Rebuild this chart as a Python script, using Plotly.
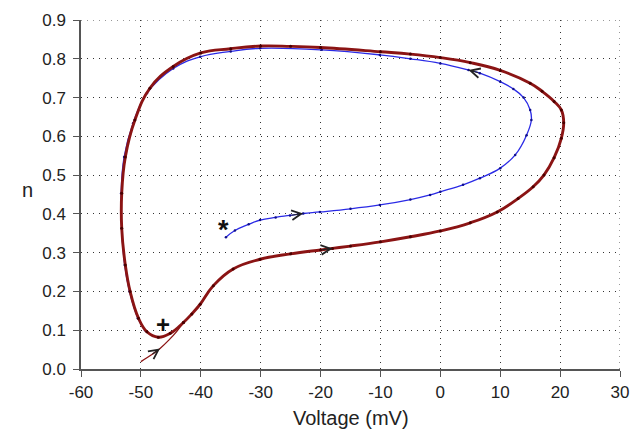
import plotly.graph_objects as go

# Transient start of the red trajectory (thin part)
red_start_v = [-50.0, -48.3, -46.8, -45.3, -44.0, -42.9]
red_start_n = [0.019, 0.036, 0.053, 0.075, 0.097, 0.120]

# Red limit cycle
red_v = [-42.9, -41.5, -40.1, -37.9, -34.6, -30.1, -25.0, -20.0, -18.0, -15.0, -10.0, -5.0, 0.0, 5.0,
         9.5, 13.0, 15.5, 17.3, 19.0, 20.2, 20.6, 20.2, 19.0, 17.0, 15.0, 10.0, 5.0, 0.0, -5.0, -10.0,
         -20.0, -25.0, -30.0, -35.0, -40.0, -44.6, -48.5, -51.0, -52.6, -53.2, -53.2, -52.6,
         -51.8, -50.4, -49.0, -47.1, -45.1, -42.9]
red_n = [0.120, 0.142, 0.167, 0.215, 0.258, 0.283, 0.297, 0.307, 0.311, 0.317, 0.328, 0.341, 0.356, 0.377,
         0.405, 0.440, 0.470, 0.500, 0.545, 0.595, 0.635, 0.668, 0.690, 0.716, 0.737, 0.770, 0.790, 0.803,
         0.812, 0.818, 0.829, 0.832, 0.833, 0.826, 0.815, 0.780, 0.724, 0.642, 0.547, 0.453,
         0.363, 0.268, 0.200, 0.131, 0.096, 0.082, 0.092, 0.120]

# Blue trajectory
blue_v = [-35.8, -34.3, -32.0, -30.1, -27.5, -25.1, -22.9, -20.1, -15.0, -10.1, -5.0, -1.7, 0.0,
          3.8, 6.6, 10.0, 12.5, 14.4, 15.2, 15.0, 13.9, 12.2, 10.0, 6.6, 4.7, 0.0, -5.0, -10.1, -19.8,
          -30.1, -35.0, -40.1, -44.6, -49.0, -51.3, -52.8, -53.3, -53.2, -52.7, -51.9, -50.5, -49.3]
blue_n = [0.340, 0.357, 0.373, 0.384, 0.391, 0.396, 0.401, 0.405, 0.413, 0.423, 0.437, 0.449, 0.457,
          0.475, 0.492, 0.518, 0.552, 0.603, 0.642, 0.668, 0.700, 0.722, 0.741, 0.763, 0.771, 0.788,
          0.800, 0.810, 0.823, 0.827, 0.819, 0.805, 0.775, 0.711, 0.634, 0.547, 0.453, 0.363, 0.268,
          0.200, 0.131, 0.100]

# Tick values and labels
x_ticks = [-60, -50, -40, -30, -20, -10, 0, 10, 20, 30]
x_tick_text = ["-60", "-50", "-40", "-30", "-20", "-10", "0", "10", "20", "30"]
y_ticks = [0.0, 0.1, 0.2, 0.3, 0.4, 0.5, 0.6, 0.7, 0.8, 0.9]
y_tick_text = ["0.0", "0.1", "0.2", "0.3", "0.4", "0.5", "0.6", "0.7", "0.8", "0.9"]

# Markers
star_pt = (-36.2, 0.371)
plus_pt = (-46.3, 0.115)

RED = "#8b1414"
BLUE = "#2a2ae6"
FONT = "Liberation Sans"

fig = go.Figure()
fig.add_trace(go.Scatter(x=blue_v, y=blue_n, mode="lines+markers",
                         line=dict(color=BLUE, width=1.3, shape="spline", smoothing=1.2),
                         marker=dict(size=2.5, color="#10108a"), hoverinfo="skip"))
fig.add_trace(go.Scatter(x=red_start_v, y=red_start_n, mode="lines",
                         line=dict(color=RED, width=1.3, shape="spline", smoothing=1.0),
                         hoverinfo="skip"))
fig.add_trace(go.Scatter(x=red_v, y=red_n, mode="lines+markers",
                         line=dict(color=RED, width=2.9, shape="spline", smoothing=1.2),
                         marker=dict(size=3, color="#4a0000"), hoverinfo="skip"))

annotations = []
# direction arrows: tip at point i, tail at point i-1 of each series
arrow_specs = [(red_start_v, red_start_n, 2), (blue_v, blue_n, 6), (red_v, red_n, 8), (blue_v, blue_n, 24)]
for xs, ys, i in arrow_specs:
    annotations.append(dict(x=xs[i], y=ys[i], ax=xs[i - 1], ay=ys[i - 1], xref="x", yref="y",
                            axref="x", ayref="y", showarrow=True, arrowhead=5, arrowsize=1.7,
                            arrowwidth=1.1, arrowcolor="#222222", standoff=0, text=""))

annotations.append(dict(x=star_pt[0], y=star_pt[1], text="<b>*</b>", showarrow=False, yshift=-5,
                        font=dict(size=27, color="#111111", family=FONT)))
annotations.append(dict(x=plus_pt[0], y=plus_pt[1], text="<b>+</b>", showarrow=False,
                        font=dict(size=24, color="#111111", family=FONT)))
annotations.append(dict(x=0, y=0.513, xref="paper", yref="paper", xshift=-61, text="n",
                        showarrow=False, font=dict(size=20, color="#222222", family=FONT)))
annotations.append(dict(x=0.5, y=0, xref="paper", yref="paper", yanchor="middle", yshift=-49,
                        text="Voltage (mV)", showarrow=False,
                        font=dict(size=20, color="#222222", family=FONT)))

# dotted top and right frame (continuation of the dotted grid)
shapes = [
    dict(type="line", xref="paper", yref="y", x0=0, x1=1, y0=y_ticks[-1], y1=y_ticks[-1],
         line=dict(color="#333333", width=1, dash="1px,5px")),
    dict(type="line", xref="x", yref="paper", x0=x_ticks[-1], x1=x_ticks[-1], y0=0, y1=1,
         line=dict(color="#333333", width=1, dash="1px,5px")),
]

axis_common = dict(showgrid=True, gridcolor="#333333", gridwidth=1, griddash="1px,5px",
                   zeroline=False, showline=True, linecolor="#555555", linewidth=1.5,
                   ticks="outside", ticklen=6, tickcolor="#555555", tickwidth=1.2,
                   automargin=False,
                   tickfont=dict(size=17, color="#222222", family=FONT))

fig.update_layout(
    width=644, height=430,
    margin=dict(l=81, r=24, t=20, b=61),
    paper_bgcolor="white", plot_bgcolor="white",
    showlegend=False,
    xaxis=dict(range=[-60, 30], tickvals=x_ticks, ticktext=x_tick_text, ticklabelstandoff=1,
               **axis_common),
    yaxis=dict(range=[0, 0.9], tickvals=y_ticks, ticktext=y_tick_text, ticklabelstandoff=4,
               **axis_common),
    annotations=annotations,
    shapes=shapes,
)

fig.write_html("out.html")
